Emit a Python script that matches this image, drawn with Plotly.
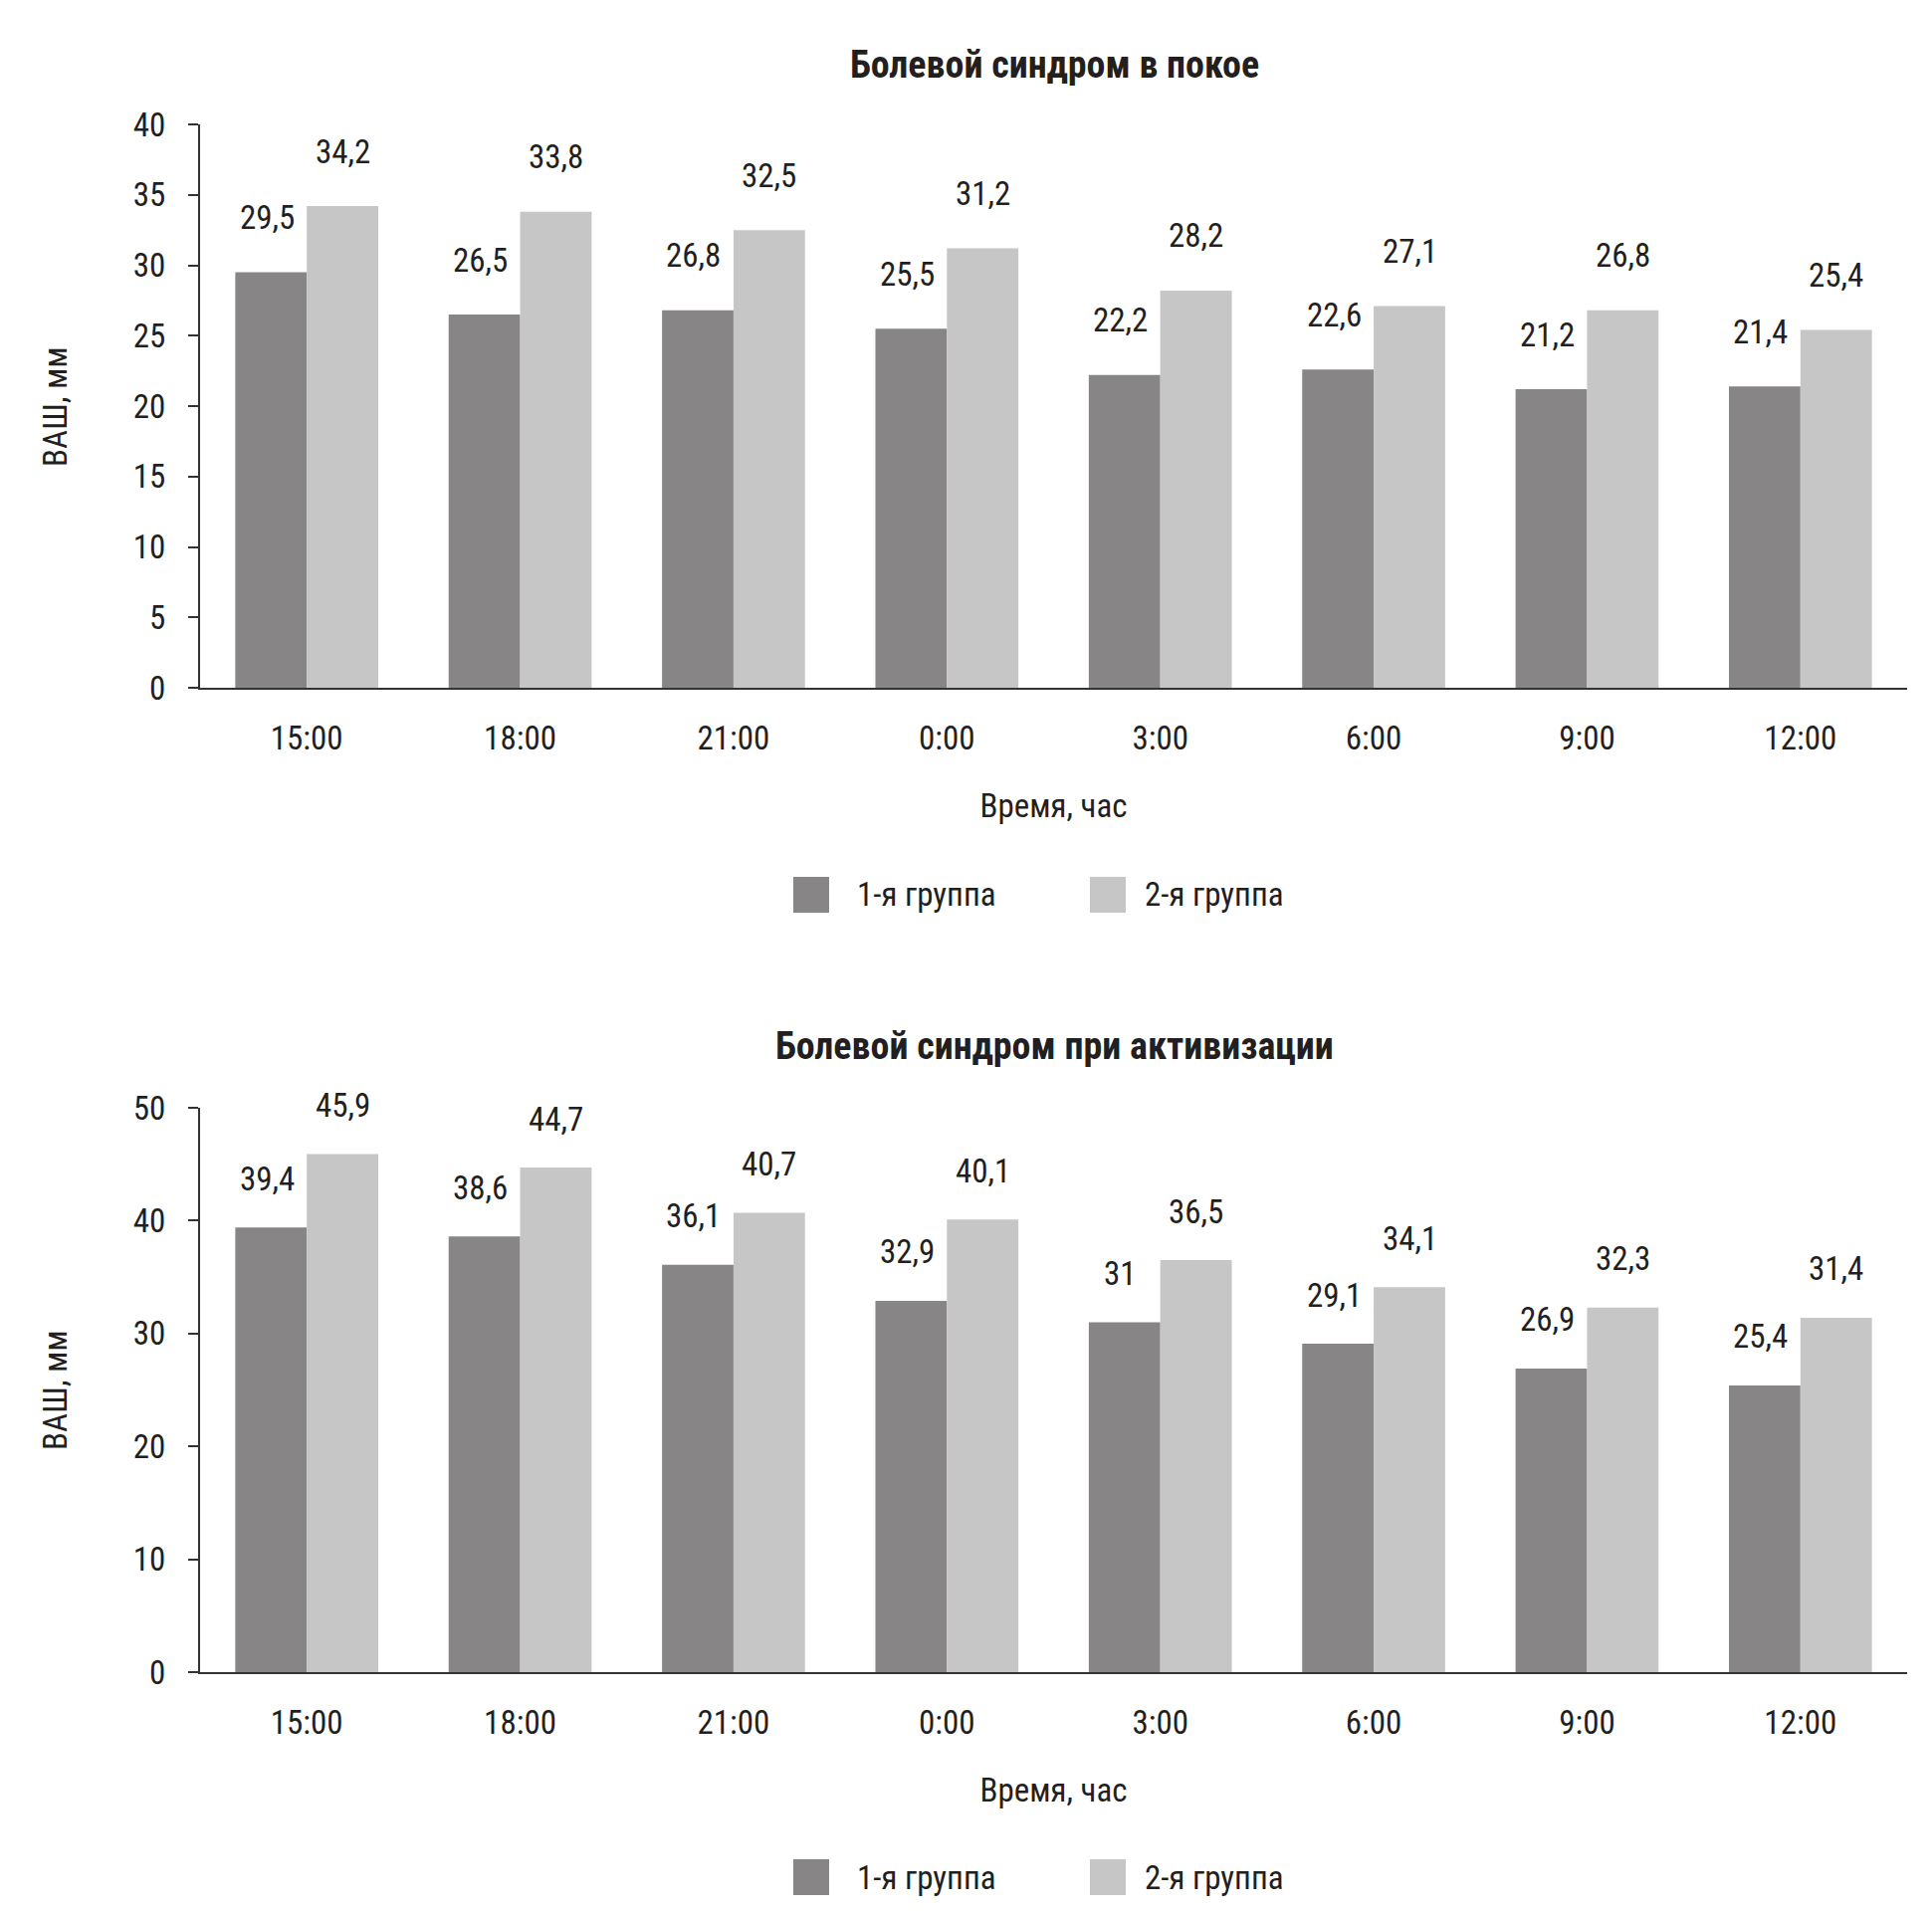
import plotly.graph_objects as go

categories = ["15:00", "18:00", "21:00", "0:00", "3:00", "6:00", "9:00", "12:00"]
rest_g1 = [29.5, 26.5, 26.8, 25.5, 22.2, 22.6, 21.2, 21.4]
rest_g2 = [34.2, 33.8, 32.5, 31.2, 28.2, 27.1, 26.8, 25.4]
act_g1 = [39.4, 38.6, 36.1, 32.9, 31.0, 29.1, 26.9, 25.4]
act_g2 = [45.9, 44.7, 40.7, 40.1, 36.5, 34.1, 32.3, 31.4]
series_names = ["1-я группа", "2-я группа"]
titles = ["Болевой синдром в покое", "Болевой синдром при активизации"]
y_ticks_top = [0, 5, 10, 15, 20, 25, 30, 35, 40]
y_ticks_bottom = [0, 10, 20, 30, 40, 50]

W, H = 1941, 1921
FONT = "Roboto Condensed, Fira Sans Condensed, sans-serif"
TXT = "#231f20"
C1 = "#878586"
C2 = "#c6c6c6"
FS = 33


def py(px):
    return 1 - px / H


def pxx(px):
    return px / W


fig = go.Figure()

panels = [
    dict(g1=rest_g1, g2=rest_g2, xa="x", ya="y", ticks=y_ticks_top, rng=[0, 40],
         dom=[py(683), py(117)], title_y=57, legend_y=891, ytitle_y=401, shift=55),
    dict(g1=act_g1, g2=act_g2, xa="x2", ya="y2", ticks=y_ticks_bottom, rng=[0, 50],
         dom=[py(1672), py(1105)], title_y=1043, legend_y=1878, ytitle_y=1389, shift=49),
]


def fmt(v):
    return ("%g" % v).replace(".", ",")


annotations = []
shapes = []
for i, p in enumerate(panels):
    for name, vals, col in [(series_names[0], p["g1"], C1), (series_names[1], p["g2"], C2)]:
        fig.add_trace(go.Bar(
            x=categories, y=vals, name=name, marker=dict(color=col, line=dict(width=0)),
            xaxis=p["xa"], yaxis=p["ya"], showlegend=False,
        ))
    # data labels
    for vals, xs in [(p["g1"], -40), (p["g2"], 36)]:
        for c, v in zip(categories, vals):
            annotations.append(dict(
                x=c, y=v, xref=p["xa"], yref=p["ya"], text=fmt(v), showarrow=False,
                xshift=xs, yshift=p["shift"], xanchor="center", yanchor="middle",
                font=dict(family=FONT, size=FS, color=TXT),
            ))
    # title
    annotations.append(dict(
        x=pxx(1051), y=py(p["title_y"]), xref="paper", yref="paper",
        text="<b>" + titles[i] + "</b>", showarrow=False, xanchor="center", yanchor="middle",
        font=dict(family=FONT, size=38, color=TXT),
    ))
    # y title
    annotations.append(dict(
        x=pxx(47), y=py(p["ytitle_y"]), xref="paper", yref="paper",
        text="ВАШ, мм", textangle=-90, showarrow=False, xanchor="center", yanchor="middle",
        font=dict(family=FONT, size=FS, color=TXT),
    ))
    # legend
    ly = p["legend_y"]
    for (sx, tx, col, name) in [(789, 851, C1, series_names[0]), (1087, 1140, C2, series_names[1])]:
        shapes.append(dict(type="rect", xref="paper", yref="paper",
                           x0=pxx(sx), x1=pxx(sx + 36), y0=py(ly + 18), y1=py(ly - 18),
                           fillcolor=col, line=dict(width=0)))
        annotations.append(dict(
            x=pxx(tx), y=py(ly), xref="paper", yref="paper", text=name,
            showarrow=False, xanchor="left", yanchor="middle",
            font=dict(family=FONT, size=FS, color=TXT),
        ))
    # small tick below the axis origin
    shapes.append(dict(type="line", xref=p["xa"], yref=p["ya"], x0=-0.5, x1=-0.5,
                       ysizemode="pixel", yanchor=0, y0=-12, y1=0,
                       line=dict(color="#333333", width=2)))

axis_common = dict(showgrid=False, zeroline=False, showline=True, linecolor="#333333",
                   linewidth=2, automargin=False)

fig.update_layout(
    width=W, height=H, margin=dict(l=0, r=0, t=0, b=0),
    paper_bgcolor="white", plot_bgcolor="white",
    barmode="group", bargap=0.33, bargroupgap=0,
    font=dict(family=FONT, size=FS, color=TXT),
    annotations=annotations, shapes=shapes,
    xaxis=dict(domain=[pxx(193), pxx(1908)], anchor="y", range=[-0.5, 7.5], ticks="",
               ticklabelstandoff=20, title=dict(text="Время, час", standoff=38,
                                                font=dict(family=FONT, size=FS, color=TXT)),
               tickfont=dict(family=FONT, size=FS, color=TXT), **axis_common),
    yaxis=dict(domain=panels[0]["dom"], anchor="x", range=[0, 40], tickvals=y_ticks_top,
               ticks="outside", ticklen=10, tickwidth=2, tickcolor="#333333",
               ticklabelstandoff=16,
               tickfont=dict(family=FONT, size=FS, color=TXT), **axis_common),
    xaxis2=dict(domain=[pxx(193), pxx(1908)], anchor="y2", range=[-0.5, 7.5], ticks="",
                ticklabelstandoff=20, title=dict(text="Время, час", standoff=38,
                                                 font=dict(family=FONT, size=FS, color=TXT)),
                tickfont=dict(family=FONT, size=FS, color=TXT), **axis_common),
    yaxis2=dict(domain=panels[1]["dom"], anchor="x2", range=[0, 50], tickvals=y_ticks_bottom,
                ticks="outside", ticklen=10, tickwidth=2, tickcolor="#333333",
                ticklabelstandoff=16,
                tickfont=dict(family=FONT, size=FS, color=TXT), **axis_common),
)

fig.write_html("out.html")
